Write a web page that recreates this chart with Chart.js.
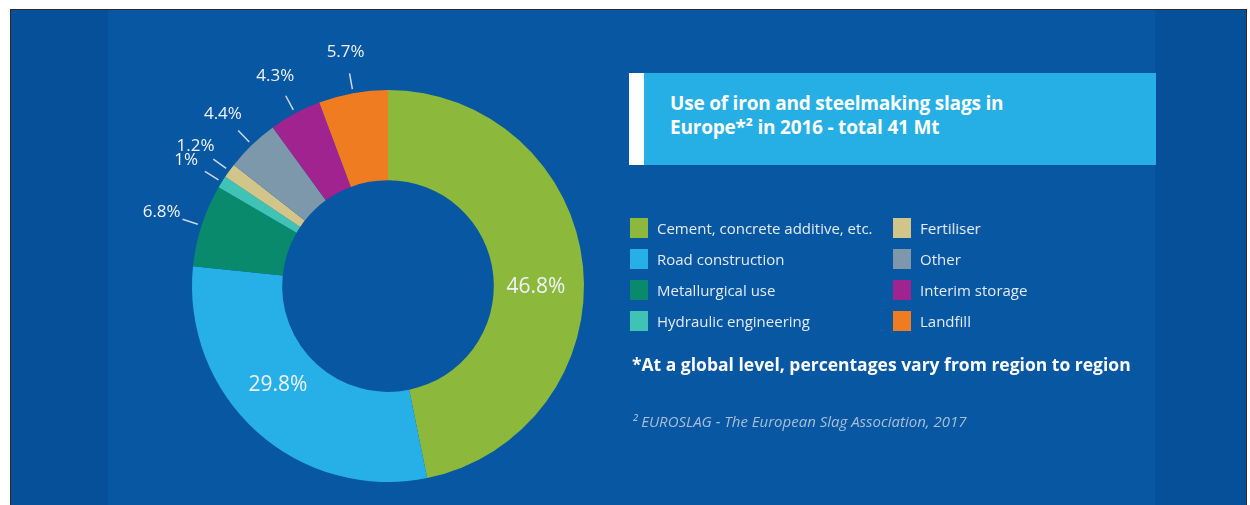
<!DOCTYPE html>
<html>
<head>
<meta charset="utf-8">
<script src="https://cdn.jsdelivr.net/npm/chart.js@4/dist/chart.umd.min.js"></script>
<style>
    body { margin: 0; background: #fff; width: 1250px; height: 505px; overflow: hidden; font-family: "Open Sans", sans-serif; }
    .panel { position: absolute; left: 10px; top: 9px; width: 1235px; height: 500px; background: #06509a; border: 1px solid #2a2a2a; border-bottom: none; }
    .inner { position: absolute; left: 108px; top: 10px; width: 1047px; height: 500px; background: #0757a3; }
    .chart-box { position: absolute; left: 110px; top: 10px; width: 556px; height: 495px; }
    .title-box { position: absolute; left: 629px; top: 73px; width: 527px; height: 92px; background: #25afe5; }
    .title-box .stripe { position: absolute; left: 0; top: 0; width: 15px; height: 100%; background: #fff; }
    .title-box .text { position: absolute; left: 41px; top: 18px; color: #fff; font-weight: 700; font-size: 19px; line-height: 24px; letter-spacing: -0.2px; }
    .legend { position: absolute; left: 630px; top: 218px; width: 520px; }
    .legend-item { position: absolute; display: flex; align-items: center; color: #e3ebf4; font-size: 15px; }
    .legend-item span.box { width: 18px; height: 20px; margin-right: 9px; }
    .note { position: absolute; left: 632px; top: 352px; color: #fff; font-weight: 700; font-size: 17.5px; }
    .source { position: absolute; left: 632px; top: 411px; color: #a8bed9; font-style: italic; font-size: 15px; }
</style>
</head>
<body>
<div class="panel"></div>
<div class="inner"></div>
<div class="chart-box"><canvas id="slagChart"></canvas></div>
<div class="title-box">
    <div class="stripe"></div>
    <div class="text">Use of iron and steelmaking slags in<br>Europe*² in 2016 - total 41 Mt</div>
</div>
<div class="legend" id="legend"></div>
<div class="note">*At a global level, percentages vary from region to region</div>
<div class="source">² EUROSLAG - The European Slag Association, 2017</div>

<script>
const categories = ['Cement, concrete additive, etc.', 'Road construction', 'Metallurgical use', 'Hydraulic engineering',
    'Fertiliser', 'Other', 'Interim storage', 'Landfill'];
const shares = [46.8, 29.8, 6.8, 1, 1.2, 4.4, 4.3, 5.7];
const sliceColors = ['#8cb83c', '#27b0e8', '#0a8a6c', '#3fc3b4', '#d2c58a', '#7d97ab', '#a0238f', '#f07c22'];

// labels: big slices inside the ring, small ones outside with a short leader line
const sliceLabels = {
    id: 'sliceLabels',
    afterDatasetsDraw(chart) {
        const ctx = chart.ctx;
        const meta = chart.getDatasetMeta(0);
        meta.data.forEach((arc, i) => {
            const p = arc.getProps(['x', 'y', 'startAngle', 'endAngle', 'innerRadius', 'outerRadius'], true);
            const mid = (p.startAngle + p.endAngle) / 2;
            const cos = Math.cos(mid), sin = Math.sin(mid);
            const text = `${shares[i]}%`;
            ctx.save();
            ctx.fillStyle = '#eef3f9';
            ctx.textAlign = 'center';
            ctx.textBaseline = 'middle';
            if (shares[i] > 10) {
                // inside labels sit a little further round than the middle
                const a = mid + 6 * Math.PI / 180;
                const r = (p.innerRadius + p.outerRadius) / 2 - 3;
                ctx.font = '21px "Open Sans"';
                ctx.fillText(text, p.x + Math.cos(a) * r, p.y + Math.sin(a) * r);
            } else {
                const r0 = p.outerRadius + 4, r1 = p.outerRadius + 20, rt = p.outerRadius + 42;
                ctx.strokeStyle = '#c9d8ea';
                ctx.lineWidth = 1.5;
                ctx.beginPath();
                ctx.moveTo(p.x + cos * r0, p.y + sin * r0);
                ctx.lineTo(p.x + cos * r1, p.y + sin * r1);
                ctx.stroke();
                ctx.font = '17px "Open Sans"';
                ctx.fillText(text, p.x + cos * rt, p.y + sin * rt);
            }
            ctx.restore();
        });
    }
};

const chart = new Chart(document.getElementById('slagChart').getContext('2d'), {
    type: 'doughnut',
    data: {
        labels: categories,
        datasets: [{
            data: shares,
            backgroundColor: sliceColors,
            borderWidth: 0
        }]
    },
    options: {
        responsive: true,
        maintainAspectRatio: false,
        animation: false,
        cutout: '54%',
        layout: { padding: { top: 80, bottom: 23 } },
        plugins: { legend: { display: false }, tooltip: { enabled: false } }
    },
    plugins: [sliceLabels]
});

// two-column legend built from the chart's own label items
const legend = document.getElementById('legend');
chart.options.plugins.legend.labels.generateLabels(chart).forEach((item, i) => {
    const el = document.createElement('div');
    el.className = 'legend-item';
    el.style.left = (i < 4 ? 0 : 263) + 'px';
    el.style.top = ((i % 4) * 31) + 'px';
    el.innerHTML = `<span class="box" style="background:${item.fillStyle}"></span>${item.text}`;
    legend.appendChild(el);
});
</script>
</body>
</html>
